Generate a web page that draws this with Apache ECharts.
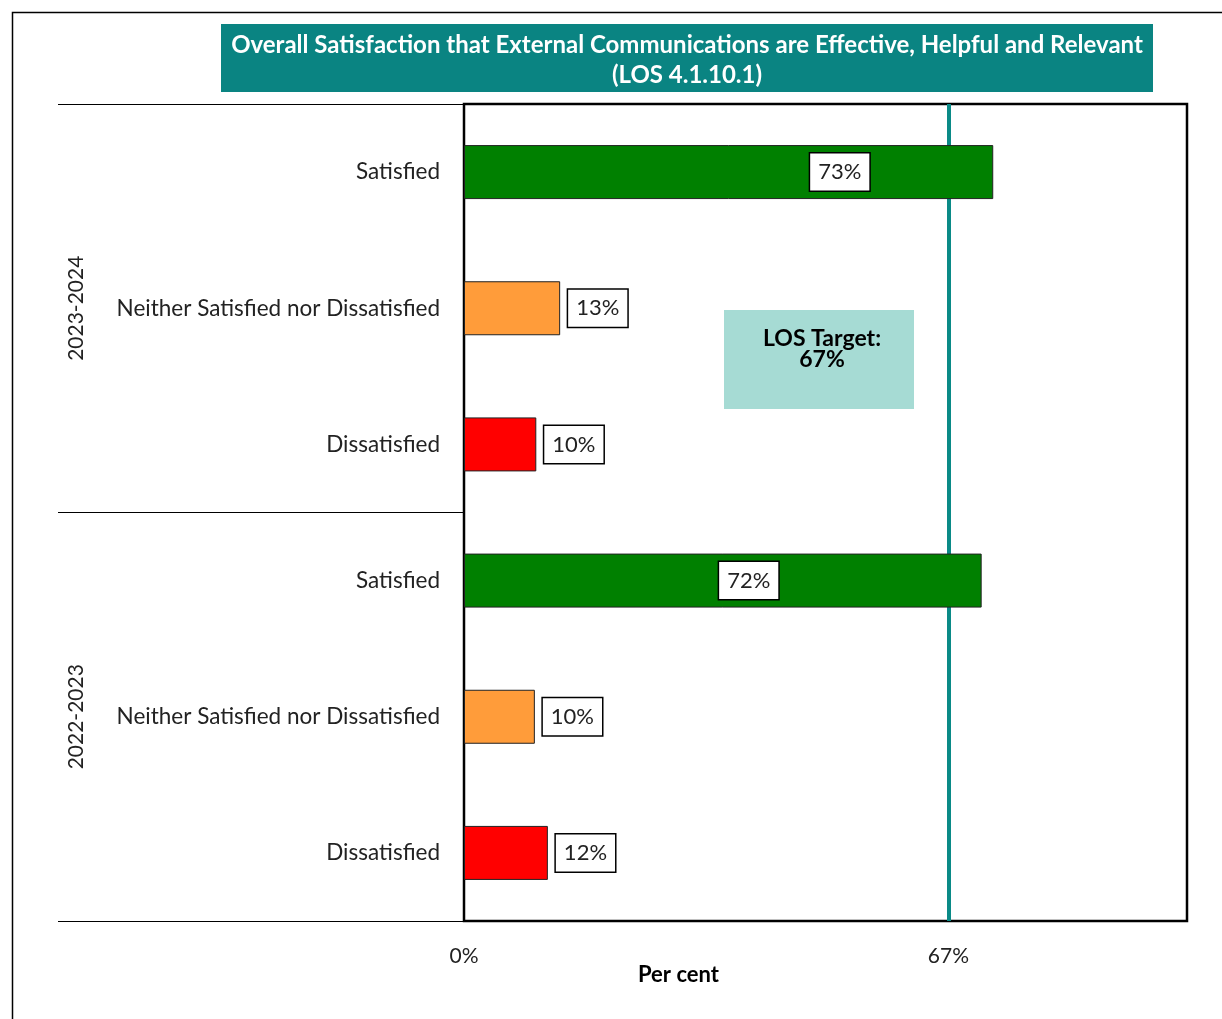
<!DOCTYPE html>
<html>
<head>
<meta charset="utf-8">
<script src="https://cdn.jsdelivr.net/npm/echarts@6/dist/echarts.min.js"></script>
<style>
html,body{margin:0;padding:0;background:#fff;}
#chart{width:1222px;height:1019px;}
</style>
</head>
<body>
<div id="chart"></div>
<script>
var titleLines = ['Overall Satisfaction that External Communications are Effective, Helpful and Relevant', '(LOS 4.1.10.1)'];
var groups = ['2023-2024', '2022-2023'];
var categories = ['Satisfied', 'Neither Satisfied nor Dissatisfied', 'Dissatisfied', 'Satisfied ', 'Neither Satisfied nor Dissatisfied ', 'Dissatisfied '];
var values = [73.2, 13.3, 10.0, 71.6, 9.8, 11.6];
var targetValue = 67;
var xTickValues = [0, 67];
var xAxisName = 'Per cent';
var targetText = 'LOS Target:\n67%';

var FONT = '"Source Sans Pro", Lato, sans-serif';
var colorMap = {'Satisfied': '#008000', 'Neither Satisfied nor Dissatisfied': '#ff9c3a', 'Dissatisfied': '#ff0000'};
var insidePos = {0: ['71%', '50%'], 3: ['55%', '50%']};

var barData = values.map(function (v, i) {
  var c = colorMap[categories[i].trim()];
  var item = {value: v, itemStyle: {color: c, borderColor: '#222', borderWidth: 1}};
  if (insidePos[i]) {
    item.label = {position: insidePos[i], align: 'center', verticalAlign: 'middle'};
  }
  return item;
});

var chart = echarts.init(document.getElementById('chart'));
chart.setOption({
  animation: false,
  backgroundColor: '#fff',
  title: {
    text: '{a|' + titleLines[0] + '}\n{a|' + titleLines[1] + '}',
    left: 221, top: 26,
    padding: [4, 10, 4, 10],
    textStyle: {
      rich: {a: {width: 912, align: 'center', fontSize: 24, lineHeight: 30, fontWeight: 'bold', color: '#fff', fontFamily: FONT}}
    }
  },
  grid: {left: 464, right: 35, top: 104, bottom: 98, show: true, borderColor: '#000', borderWidth: 2.5, backgroundColor: 'transparent'},
  xAxis: {
    type: 'value', min: 0, max: 100,
    axisLine: {show: false}, axisTick: {show: false}, splitLine: {show: false},
    axisLabel: {customValues: xTickValues, formatter: '{value}%', fontSize: 21, color: '#222', margin: 25, fontFamily: FONT},
    name: xAxisName, nameLocation: 'middle', nameGap: 43, nameMoveOverlap: false,
    nameTextStyle: {fontSize: 22, fontWeight: 'bold', color: '#000', fontFamily: FONT, padding: [0, 294, 0, 0]}
  },
  yAxis: [{
    type: 'category', data: categories, inverse: true,
    axisLine: {show: false}, axisTick: {show: false},
    axisLabel: {fontSize: 22.5, color: '#222', margin: 24, fontFamily: FONT, formatter: function (v) { return v.trim(); }}
  }, {
    type: 'category', data: groups, inverse: true, position: 'left',
    axisLine: {show: false},
    axisTick: {show: true, length: 406, lineStyle: {color: '#000', width: 1}},
    axisLabel: {rotate: 90, fontSize: 21, color: '#222', margin: 377, fontFamily: FONT}
  }],
  series: [{
    type: 'scatter', data: [], z: 1, silent: true,
    markLine: {symbol: 'none', silent: true, label: {show: false}, lineStyle: {color: '#0a8a87', width: 4, type: 'solid'},
      data: [{xAxis: targetValue}]}
  }, {
    type: 'bar', data: barData, barWidth: 54, zlevel: 1, z: 3,
    label: {
      show: true, position: 'right', distance: 8,
      formatter: function (p) { return Math.round(p.value) + '%'; },
      backgroundColor: '#fff', borderColor: '#000', borderWidth: 1.5,
      padding: [8, 8, 7, 8], fontSize: 22, color: '#222', fontFamily: FONT
    }
  }],
  graphic: [{
    type: 'rect', left: 10, top: 10, shape: {width: 1300, height: 1100},
    style: {fill: 'none', stroke: '#000', lineWidth: 1.5}, silent: true
  }, {
    type: 'rect', left: 221, top: 24, shape: {width: 932, height: 68},
    style: {fill: '#0a8482'}, silent: true
  }, {
    type: 'rect', left: 724, top: 310, shape: {width: 190, height: 99},
    style: {fill: '#a6dbd4'}, z: 2
  }, {
    type: 'text', x: 822, y: 328, z: 3,
    style: {text: targetText, fontSize: 23, fontWeight: 'bold', fill: '#000', fontFamily: FONT, align: 'center', lineHeight: 21}
  }]
});
</script>
</body>
</html>
